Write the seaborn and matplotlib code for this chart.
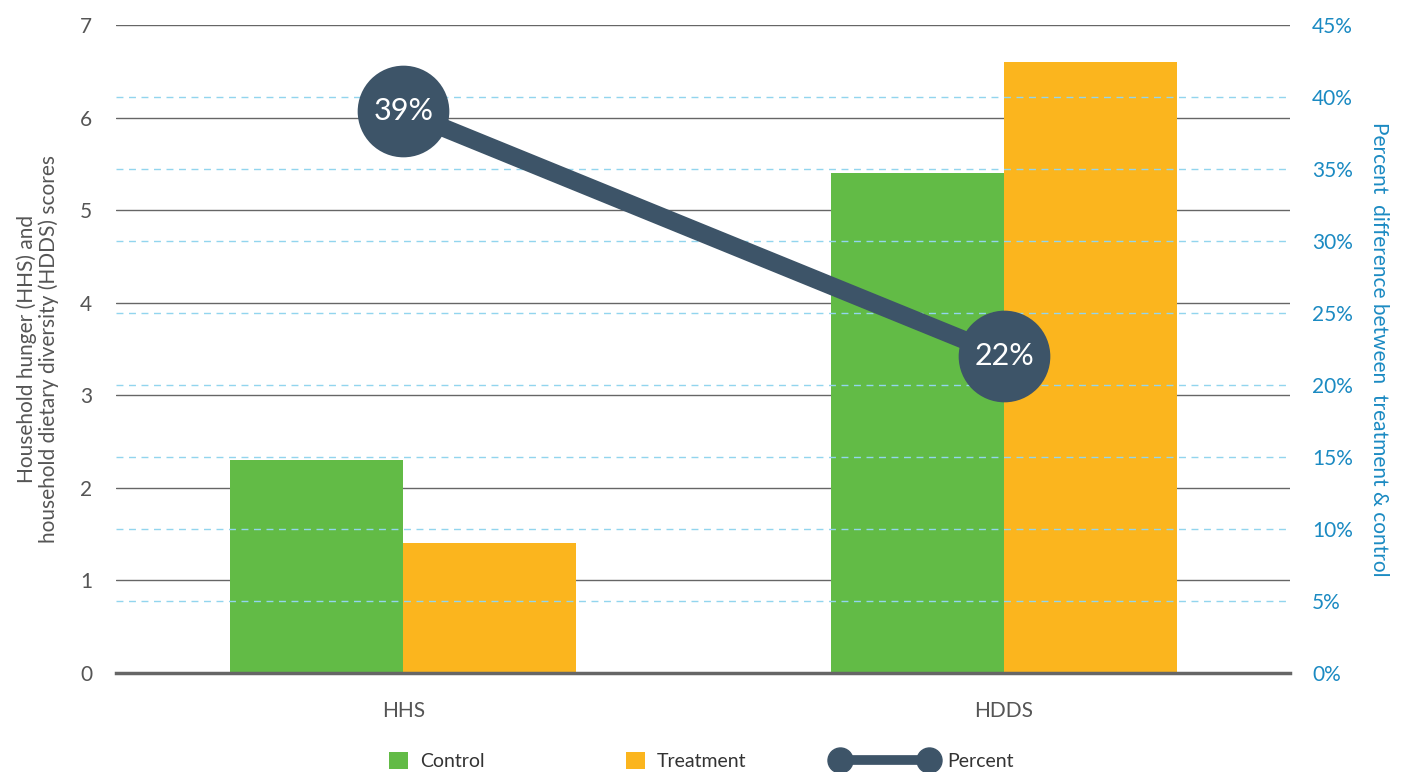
import matplotlib
matplotlib.use("Agg")
import matplotlib.pyplot as plt
import seaborn as sns
import pandas as pd
from matplotlib.lines import Line2D
from matplotlib.patches import Patch

categories = ["HHS", "HDDS"]
control = [2.3, 5.4]
treatment = [1.4, 6.6]
percent = [39, 22]
percent_labels = ["39%", "22%"]
left_ticks = [0, 1, 2, 3, 4, 5, 6, 7]
right_ticks = [0, 5, 10, 15, 20, 25, 30, 35, 40, 45]

GREEN = "#62bb46"
ORANGE = "#fbb51e"
SLATE = "#3d5468"
BLUE = "#1b8ac2"
GRAY = "#555555"

sns.set_theme(style="white")
plt.rcParams["font.family"] = ["Lato", "DejaVu Sans"]

df = pd.DataFrame({
    "category": categories * 2,
    "group": ["Control"] * len(categories) + ["Treatment"] * len(categories),
    "score": control + treatment,
})

fig = plt.figure(figsize=(14.03, 7.72), dpi=100)
ax = fig.add_axes([116 / 1403, 1 - 673 / 772, (1290 - 116) / 1403, (673 - 25) / 772])

sns.barplot(data=df, x="category", y="score", hue="group",
            palette=[GREEN, ORANGE], width=0.575, saturation=1,
            edgecolor="none", linewidth=0, ax=ax, legend=False, zorder=3)

ax.set_ylim(0, 7)
ax.set_xlim(-0.478, 1.476)
ax.set_yticks(left_ticks)
ax.set_yticklabels([str(t) for t in left_ticks], fontsize=15, color=GRAY)
ax.set_xticks(range(len(categories)))
ax.set_xticklabels(categories, fontsize=15, color=GRAY)
ax.tick_params(axis="x", length=0, pad=20)
ax.tick_params(axis="y", length=0, pad=17)
ax.set_xlabel("")
ax.set_ylabel("Household hunger (HHS) and\nhousehold dietary diversity (HDDS) scores",
              fontsize=15, color=GRAY, labelpad=15, linespacing=1.1)
for y in left_ticks[1:]:
    ax.axhline(y, color="#666666", lw=1.0, zorder=1)
for s in ["left", "right", "top"]:
    ax.spines[s].set_visible(False)
ax.spines["bottom"].set_color("#666666")
ax.spines["bottom"].set_linewidth(2.5)
ax.spines["bottom"].set_zorder(5)

ax2 = ax.twinx()
ax2.set_ylim(0, 45)
ax2.set_yticks(right_ticks)
ax2.set_yticklabels([f"{t}%" for t in right_ticks], fontsize=15, color=BLUE)
ax2.tick_params(axis="y", length=0, pad=16)
for y in right_ticks[1:-1]:
    ax2.axhline(y, color="#92d5ee", lw=1.0, ls=(0, (5, 4)), zorder=0)
for s in ["left", "right", "top", "bottom"]:
    ax2.spines[s].set_visible(False)
ax2.set_ylabel("Percent  difference between  treatment & control", fontsize=15,
               color=BLUE, rotation=270, labelpad=26)

ax2.plot(range(len(categories)), percent, color=SLATE, lw=13, marker="o",
         markersize=66, markeredgewidth=0, solid_capstyle="butt", zorder=4)
for i, (v, lab) in enumerate(zip(percent, percent_labels)):
    ax2.text(i, v, lab, ha="center", va="center", fontsize=22, color="white",
             fontweight="normal", zorder=6)

# Legend entries placed individually along the bottom
legend_items = [
    (Patch(facecolor=GREEN, edgecolor="none", label="Control"), 389 / 1403, 1.0),
    (Patch(facecolor=ORANGE, edgecolor="none", label="Treatment"), 626 / 1403, 1.0),
    (Line2D([0], [0], color=SLATE, lw=7, marker="o", markersize=18,
            markevery=[0, -1], label="Percent"), 834 / 1403, 5.2),
]
for handle, xpos, hlen in legend_items:
    kw = {"numpoints": 2} if isinstance(handle, Line2D) else {}
    fig.legend(handles=[handle], loc="center left", bbox_to_anchor=(xpos, 11 / 772),
               frameon=False, fontsize=14, handlelength=hlen, handleheight=1.0,
               handletextpad=0.6, labelcolor="#333333", borderpad=0,
               borderaxespad=0, **kw)

fig.savefig("out.png", dpi=100)
